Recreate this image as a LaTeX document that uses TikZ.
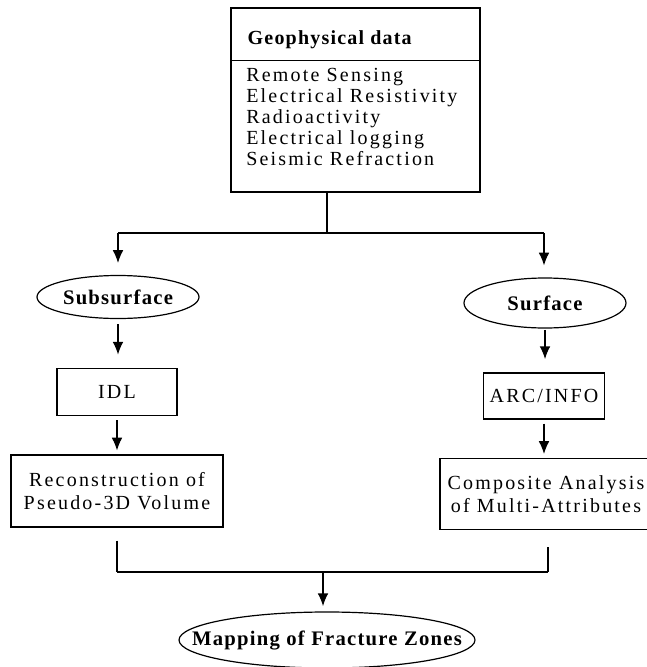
\documentclass[tikz,border=0pt]{standalone}
\usepackage{fontspec}
\setmainfont{Liberation Serif}
\newfontfamily\plaintext[LetterSpace=11]{Liberation Serif}
\newfontfamily\headtext[LetterSpace=6]{Liberation Serif}
\usepackage{tikz}
\usetikzlibrary{arrows,arrows.meta,positioning,shapes.geometric}
\tikzset{every node/.append style={transform shape=false}}
\tikzset{
  box/.style={draw, line width=0.9pt, inner sep=0pt, align=center,
    font=\plaintext\fontsize{15}{17.5}\selectfont},
  oval/.style={ellipse, draw, line width=0.9pt, inner xsep=-25pt, inner ysep=0pt,
    font=\headtext\bfseries\fontsize{15.5}{18}\selectfont},
  link/.style={line width=0.9pt},
  arr/.style={link, -{Latex[length=9.5pt,width=8pt]}}
}

\begin{document}
\begin{tikzpicture}[x=0.75pt,y=-0.75pt]
\useasboundingbox (0,0) rectangle (646,667);
  \node [box, minimum width=186.75pt, minimum height=138pt] (geo) at (355.5,100) {};
  \coordinate (sep) at (0,60);
  \draw [line width=0.5pt] (geo.west |- sep) -- (geo.east |- sep);
  \node [anchor=west, font=\headtext\bfseries\fontsize{15}{16}\selectfont]
        (title) at (243,40) {Geophysical data};
  \node [anchor=north west, align=left, inner sep=0pt,
         font=\plaintext\fontsize{15}{15.75}\selectfont] (methods) at (246,68)
        {Remote Sensing\\ Electrical Resistivity\\ Radioactivity\\
         Electrical logging\\ Seismic Refraction};
\coordinate (split) at (327,233);
\coordinate (lft) at (118,233);
\coordinate (rgt) at (544,233);
\draw[link] (geo.south -| split) -- (split);
\draw[link] (lft) -- (rgt);
\node[oval, minimum width=121.5pt, minimum height=32.25pt] (sub) at (118,297) {Subsurface};
\node[oval, minimum width=121.5pt, minimum height=37.5pt] (surf) at (545,303) {Surface};
\draw[arr, shorten >=9pt] (lft) -- (lft |- sub.north);
\draw[arr, shorten >=9pt] (rgt) -- (rgt |- surf.north);
\node[box, minimum width=90pt, minimum height=35.25pt] (idl) at (117,392) {IDL};
\node[box, minimum width=90.75pt, minimum height=34.5pt] (arc) at (544,396) {ARC/INFO};
\draw[arr, shorten <=4pt, shorten >=10pt] (sub.south) -- (sub.south |- idl.north);
\draw[arr, shorten <=1pt, shorten >=10pt] (surf.south) -- (surf.south |- arc.north);
\node[box, minimum width=159pt, minimum height=54pt] (recon) at (117,491)
  {Reconstruction of\\ Pseudo-3D Volume};
\node[box, minimum width=159pt, minimum height=53.25pt] (comp) at (546,494)
  {Composite Analysis\\ of Multi-Attributes};
\draw[arr, shorten <=3pt, shorten >=3pt] (idl.south) -- (idl.south |- recon.north);
\draw[arr, shorten <=3pt, shorten >=3pt] (arc.south) -- (arc.south |- comp.north);
\coordinate (join) at (323,572);
\coordinate (cl) at (117,572);
\coordinate (cr) at (548,572);
\draw[link, shorten <=9.75pt] (recon.south -| cl) -- (cl);
\draw[link, shorten <=12.75pt] (comp.south -| cr) -- (cr);
\draw[link] (cl) -- (cr);
\node[oval, minimum width=222pt, minimum height=42pt] (zones) at (327,640)
  {Mapping of Fracture Zones};
\draw[arr, shorten >=4pt] (join) -- (join |- zones.north);
\end{tikzpicture}
\end{document}
